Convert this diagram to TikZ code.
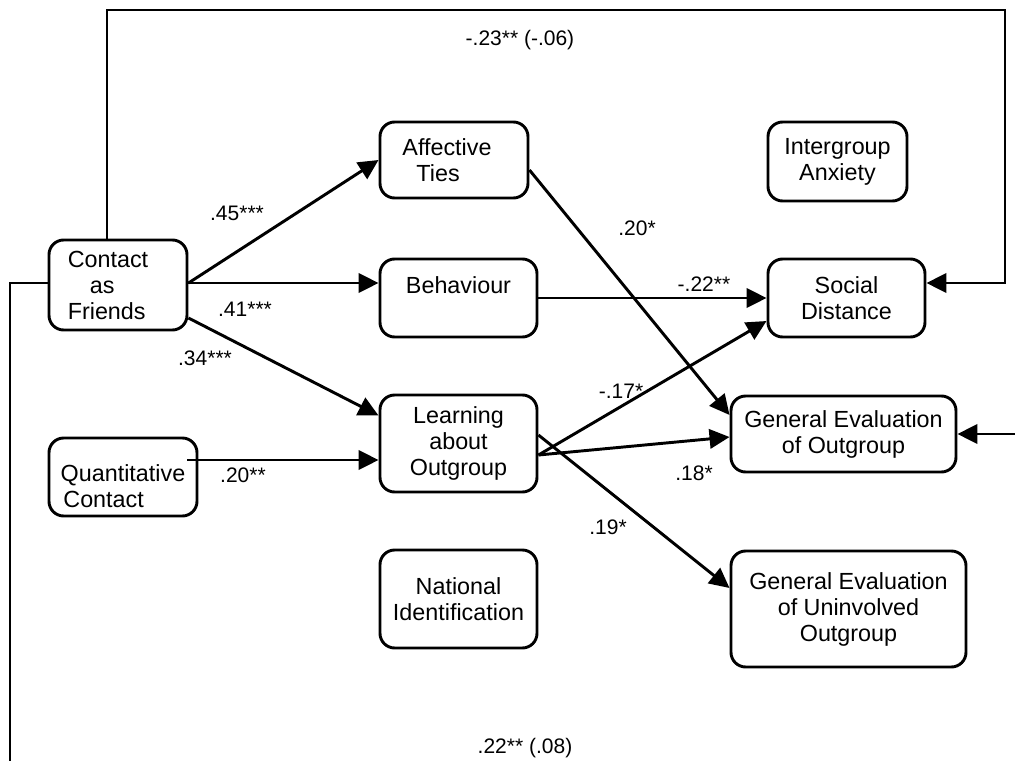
\documentclass[tikz,border=0pt]{standalone}
\usepackage{fontspec}
\setmainfont{Liberation Sans}
\usetikzlibrary{arrows.meta,calc}

\begin{document}
\begin{tikzpicture}[x=0.75pt,y=-0.75pt,
  box/.style={draw, line width=2.2pt, rounded corners=11pt, inner sep=0pt,
    align=center, font=\fontsize{17.5}{19.5}\selectfont},
  link/.style={line width=2.2pt, -{Triangle[length=15pt,width=14.5pt]}},
  wire/.style={line width=2.2pt},
  coef/.style={font=\fontsize{15.75}{18}\selectfont, inner sep=0pt}]
\useasboundingbox (0,0) rectangle (1015,761);

% predictors
\node[box, align=left, minimum width=103.5pt, minimum height=67.5pt] (cf) at (118,285)
  {Contact\hspace*{15pt}\\\hspace*{16.5pt}as\\Friends};
\node[box, align=left, minimum width=111pt, minimum height=58.5pt] (qc) at (123,477)
  {\rule{0pt}{26pt}Quantitative\\\hspace*{2pt}Contact};

% mediators
\node[box, align=left, minimum width=111pt, minimum height=57pt] (at) at (454,160)
  {Affective\hspace*{10.5pt}\\\hspace*{10.5pt}Ties};
\node[box, minimum width=117.75pt, minimum height=58.5pt] (bh) at (458.5,298) {Behaviour\\\mbox{}};
\node[box, minimum width=117.75pt, minimum height=72.75pt] (lo) at (458.5,443.5) {Learning\\about\\Outgroup};
\node[box, minimum width=117.75pt, minimum height=73.5pt] (ni) at (458.5,599) {National\\Identification};
\node[box, minimum width=104.25pt, minimum height=59.25pt] (ia) at (837.5,161.5) {Intergroup\\Anxiety};

% outcomes
\node[box, minimum width=117.75pt, minimum height=58.5pt] (sd) at (846.5,298) {Social\\Distance};
\node[box, minimum width=168.75pt, minimum height=57pt] (ge) at (843.5,434) {General Evaluation\\of Outgroup};
\node[box, minimum width=176.25pt, minimum height=87pt] (ue) at (848.5,609) {General Evaluation\\of Uninvolved\\Outgroup};

% direct paths drawn around the model
\coordinate (topR) at (1005,10);
\coordinate (botL) at (10,761);
\coordinate (rightIn) at (1015,434);
\draw[link, line join=miter] ($(cf.north)+(-11,0)$) |- (topR) |- ($(sd.east)+(0,-15)$);
\draw[wire, line join=miter] ($(cf.west)+(0,-2)$) -| (botL);
\draw[link] (rightIn) -- (ge.east);

% paths from contact
\draw[link] ($(cf.east)+(0,-2)$) -- (at.west);
\draw[link] ($(cf.east)+(0,-2)$) -- ($(bh.west)+(0,-15)$);
\draw[link] ($(cf.east)+(0,33)$) -- ($(lo.west)+(0,-28)$);
\draw[link] ($(qc.east)+(-11,-17)$) -- ($(lo.west)+(0,16.5)$);

% paths from mediators
\draw[link] ($(at.east)+(0,10)$) -- ($(ge.west)+(0,-19)$);
\draw[link] (bh.east) -- (sd.west);
\draw[link] ($(lo.east)+(0,11.5)$) -- ($(sd.west)+(0,23)$);
\draw[link] ($(lo.east)+(0,11.5)$) -- ($(ge.west)+(0,3)$);
\draw[link] ($(lo.east)+(0,-8.5)$) -- ($(ue.west)+(0,-21)$);

% coefficients
\node[coef] (c1) at (520,40) {-.23** (-.06)};
\node[coef] (c2) at (237,213) {.45***};
\node[coef] (c3) at (245,309) {.41***};
\node[coef] (c4) at (205,358) {.34***};
\node[coef] (c5) at (243,475) {.20**};
\node[coef] (c6) at (637,228) {.20*};
\node[coef] (c7) at (704,284) {-.22**};
\node[coef] (c8) at (621,391) {-.17*};
\node[coef] (c9) at (694,473) {.18*};
\node[coef] (c10) at (608,527) {.19*};
\node[coef] (c11) at (525,748) {.22** (.08)};
\end{tikzpicture}
\end{document}
